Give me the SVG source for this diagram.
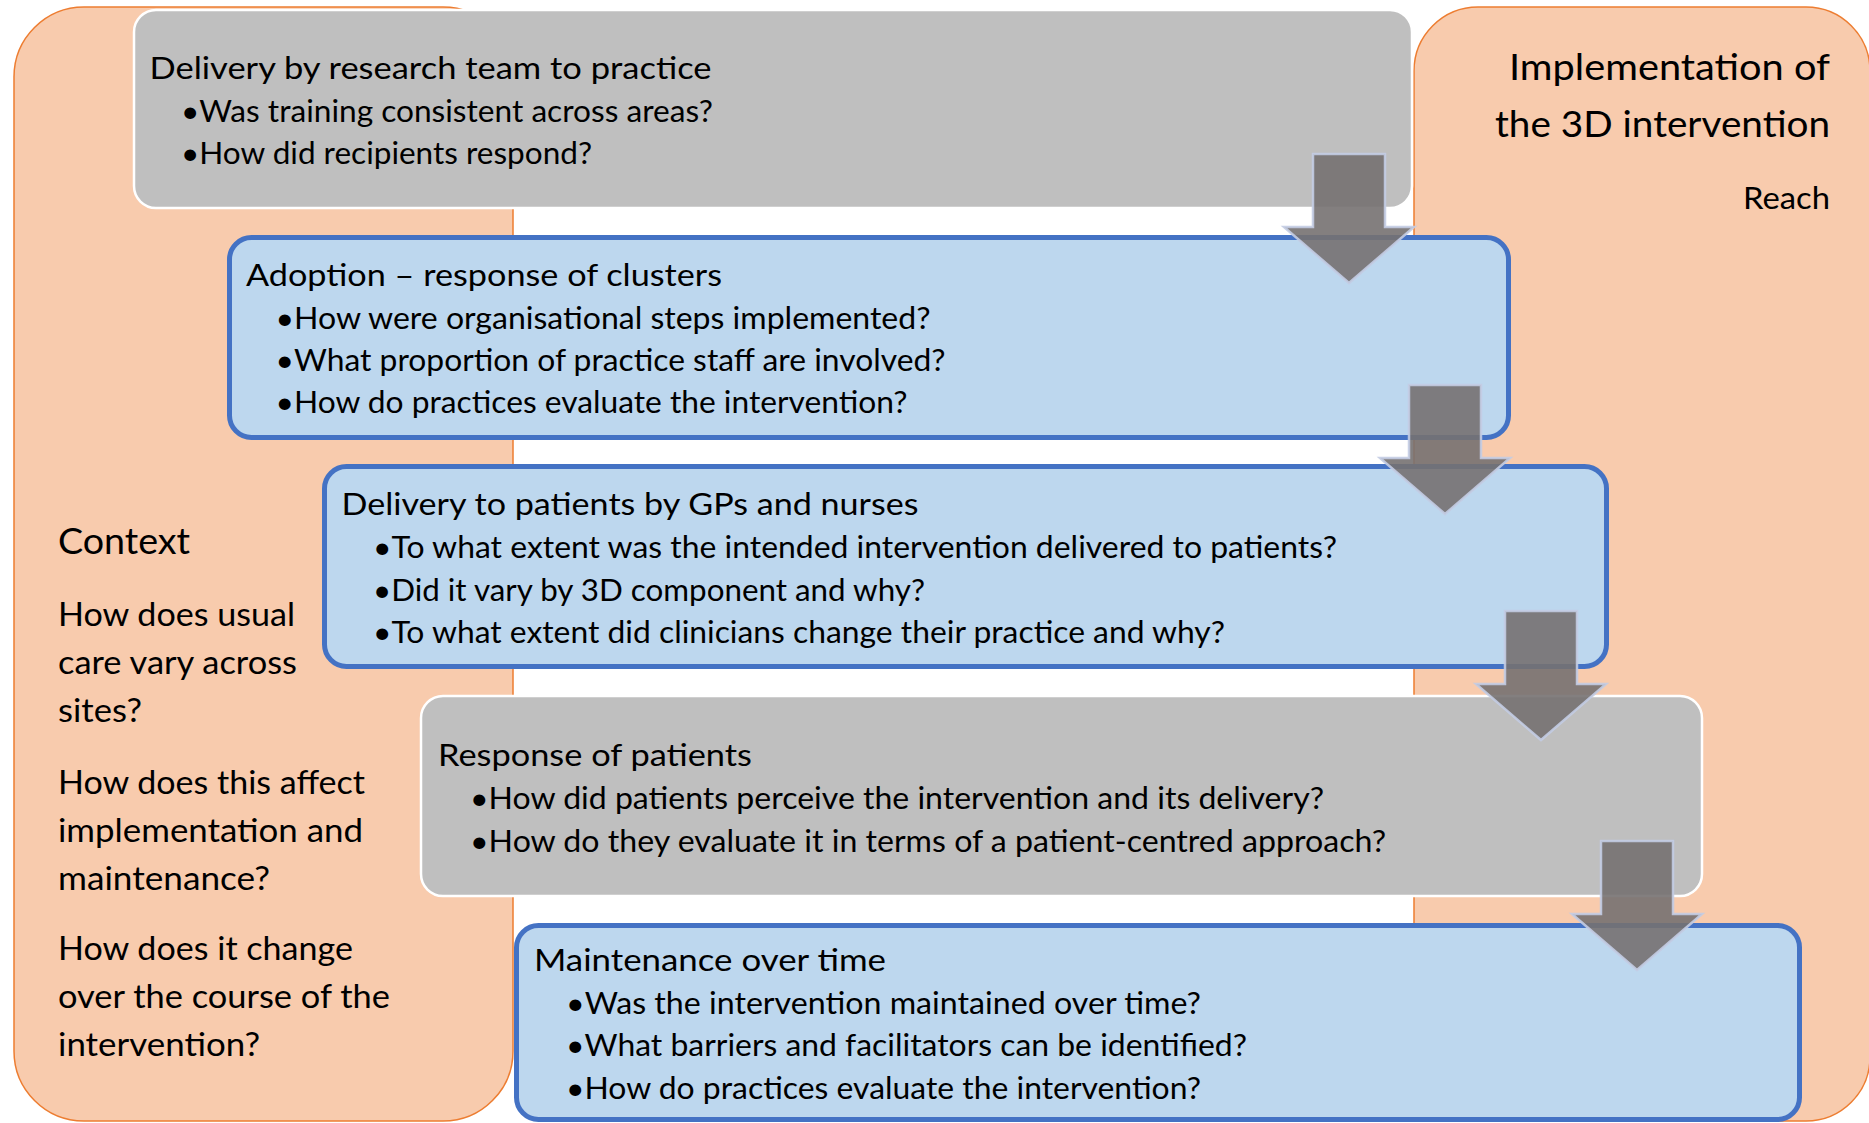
<svg xmlns="http://www.w3.org/2000/svg" width="1869" height="1123" viewBox="0 0 1869 1123">
  <style>
    .panel { fill: #F8CBAD; stroke: #ED7D31; stroke-width: 1.5; }
    .gray { fill: #BFBFBF; stroke: #FFFFFF; stroke-width: 2.5; }
    .blue { fill: #BDD7EE; stroke: #4472C4; stroke-width: 5; }
    .arrow { fill: #767171; fill-opacity: 0.9; stroke: #C3CCE3; stroke-width: 2.5; stroke-opacity: 0.9; stroke-linejoin: miter; }
    text { font-family: Lato, "Liberation Sans", "DejaVu Sans", sans-serif; fill: #000000; }
    .t { font-size: 30px; }
    .ctx { font-size: 33px; }
    .head { font-size: 36px; }
  </style>

  <rect width="1869" height="1123" fill="#FFFFFF"/>

  <!-- Context panel (left) -->
  <g id="context">
    <rect class="panel" x="14" y="7" width="499" height="1114" rx="70" ry="70"/>
    <text class="head" x="58" y="554" textLength="132" lengthAdjust="spacingAndGlyphs">Context</text>
    <text class="ctx" x="58" y="626" textLength="237" lengthAdjust="spacingAndGlyphs">How does usual</text>
    <text class="ctx" x="58" y="674" textLength="239" lengthAdjust="spacingAndGlyphs">care vary across</text>
    <text class="ctx" x="58" y="722" textLength="84" lengthAdjust="spacingAndGlyphs">sites?</text>
    <text class="ctx" x="58" y="794" textLength="307" lengthAdjust="spacingAndGlyphs">How does this affect</text>
    <text class="ctx" x="58" y="842" textLength="305" lengthAdjust="spacingAndGlyphs">implementation and</text>
    <text class="ctx" x="58" y="890" textLength="212" lengthAdjust="spacingAndGlyphs">maintenance?</text>
    <text class="ctx" x="58" y="960" textLength="295" lengthAdjust="spacingAndGlyphs">How does it change</text>
    <text class="ctx" x="58" y="1008" textLength="332" lengthAdjust="spacingAndGlyphs">over the course of the</text>
    <text class="ctx" x="58" y="1056" textLength="202" lengthAdjust="spacingAndGlyphs">intervention?</text>
  </g>

  <!-- Implementation panel (right) -->
  <g id="implementation">
    <rect class="panel" x="1414" y="7" width="456" height="1114" rx="64" ry="64"/>
    <text x="1830" y="80" font-size="37" text-anchor="end" textLength="321" lengthAdjust="spacingAndGlyphs">Implementation of</text>
    <text x="1830" y="137" font-size="37" text-anchor="end" textLength="335" lengthAdjust="spacingAndGlyphs">the 3D intervention</text>
    <text x="1830" y="209" font-size="30" text-anchor="end" textLength="87" lengthAdjust="spacingAndGlyphs">Reach</text>
  </g>

  <!-- Stage 1 -->
  <g id="delivery-research-team">
    <rect class="gray" x="134" y="10" width="1278" height="198" rx="22" ry="22"/>
    <text class="t" x="149.5" y="79" textLength="562" lengthAdjust="spacingAndGlyphs">Delivery by research team to practice</text>
    <text class="t" x="181" y="122" textLength="532" lengthAdjust="spacingAndGlyphs">•Was training consistent across areas?</text>
    <text class="t" x="181" y="164" textLength="411" lengthAdjust="spacingAndGlyphs">•How did recipients respond?</text>
  </g>

  <!-- Stage 2 -->
  <g id="adoption">
    <rect class="blue" x="229.5" y="237.5" width="1279" height="200" rx="22" ry="22"/>
    <text class="t" x="246" y="286" textLength="476" lengthAdjust="spacingAndGlyphs">Adoption – response of clusters</text>
    <text class="t" x="275.5" y="329" textLength="655" lengthAdjust="spacingAndGlyphs">•How were organisational steps implemented?</text>
    <text class="t" x="275.5" y="371" textLength="670" lengthAdjust="spacingAndGlyphs">•What proportion of practice staff are involved?</text>
    <text class="t" x="275.5" y="413" textLength="632" lengthAdjust="spacingAndGlyphs">•How do practices evaluate the intervention?</text>
  </g>

  <!-- Stage 3 -->
  <g id="delivery-patients">
    <rect class="blue" x="324.5" y="466.5" width="1282" height="200" rx="22" ry="22"/>
    <text class="t" x="341.5" y="515" textLength="577" lengthAdjust="spacingAndGlyphs">Delivery to patients by GPs and nurses</text>
    <text class="t" x="373" y="558" textLength="964" lengthAdjust="spacingAndGlyphs">•To what extent was the intended intervention delivered to patients?</text>
    <text class="t" x="373" y="601" textLength="552" lengthAdjust="spacingAndGlyphs">•Did it vary by 3D component and why?</text>
    <text class="t" x="373" y="643" textLength="852" lengthAdjust="spacingAndGlyphs">•To what extent did clinicians change their practice and why?</text>
  </g>

  <!-- Stage 4 -->
  <g id="response-patients">
    <rect class="gray" x="421" y="696" width="1281" height="200" rx="22" ry="22"/>
    <text class="t" x="438" y="766" textLength="314" lengthAdjust="spacingAndGlyphs">Response of patients</text>
    <text class="t" x="470" y="809" textLength="854" lengthAdjust="spacingAndGlyphs">•How did patients perceive the intervention and its delivery?</text>
    <text class="t" x="470" y="852" textLength="916" lengthAdjust="spacingAndGlyphs">•How do they evaluate it in terms of a patient-centred approach?</text>
  </g>

  <!-- Stage 5 -->
  <g id="maintenance">
    <rect class="blue" x="516.5" y="925.5" width="1283" height="194" rx="22" ry="22"/>
    <text class="t" x="534" y="971" textLength="352" lengthAdjust="spacingAndGlyphs">Maintenance over time</text>
    <text class="t" x="566" y="1014" textLength="635" lengthAdjust="spacingAndGlyphs">•Was the intervention maintained over time?</text>
    <text class="t" x="566" y="1056" textLength="681" lengthAdjust="spacingAndGlyphs">•What barriers and facilitators can be identified?</text>
    <text class="t" x="566" y="1099" textLength="635" lengthAdjust="spacingAndGlyphs">•How do practices evaluate the intervention?</text>
  </g>

  <!-- Block arrows between stages -->
  <g id="connectors">
    <polygon class="arrow" points="1313,154 1385,154 1385,227 1414,227 1349,283 1284,227 1313,227"/>
    <polygon class="arrow" points="1409,385 1481,385 1481,458 1510,458 1445,514 1380,458 1409,458"/>
    <polygon class="arrow" points="1505,611 1577,611 1577,684 1606,684 1541,740 1476,684 1505,684"/>
    <polygon class="arrow" points="1601,841 1673,841 1673,914 1702,914 1637,970 1572,914 1601,914"/>
  </g>
</svg>
